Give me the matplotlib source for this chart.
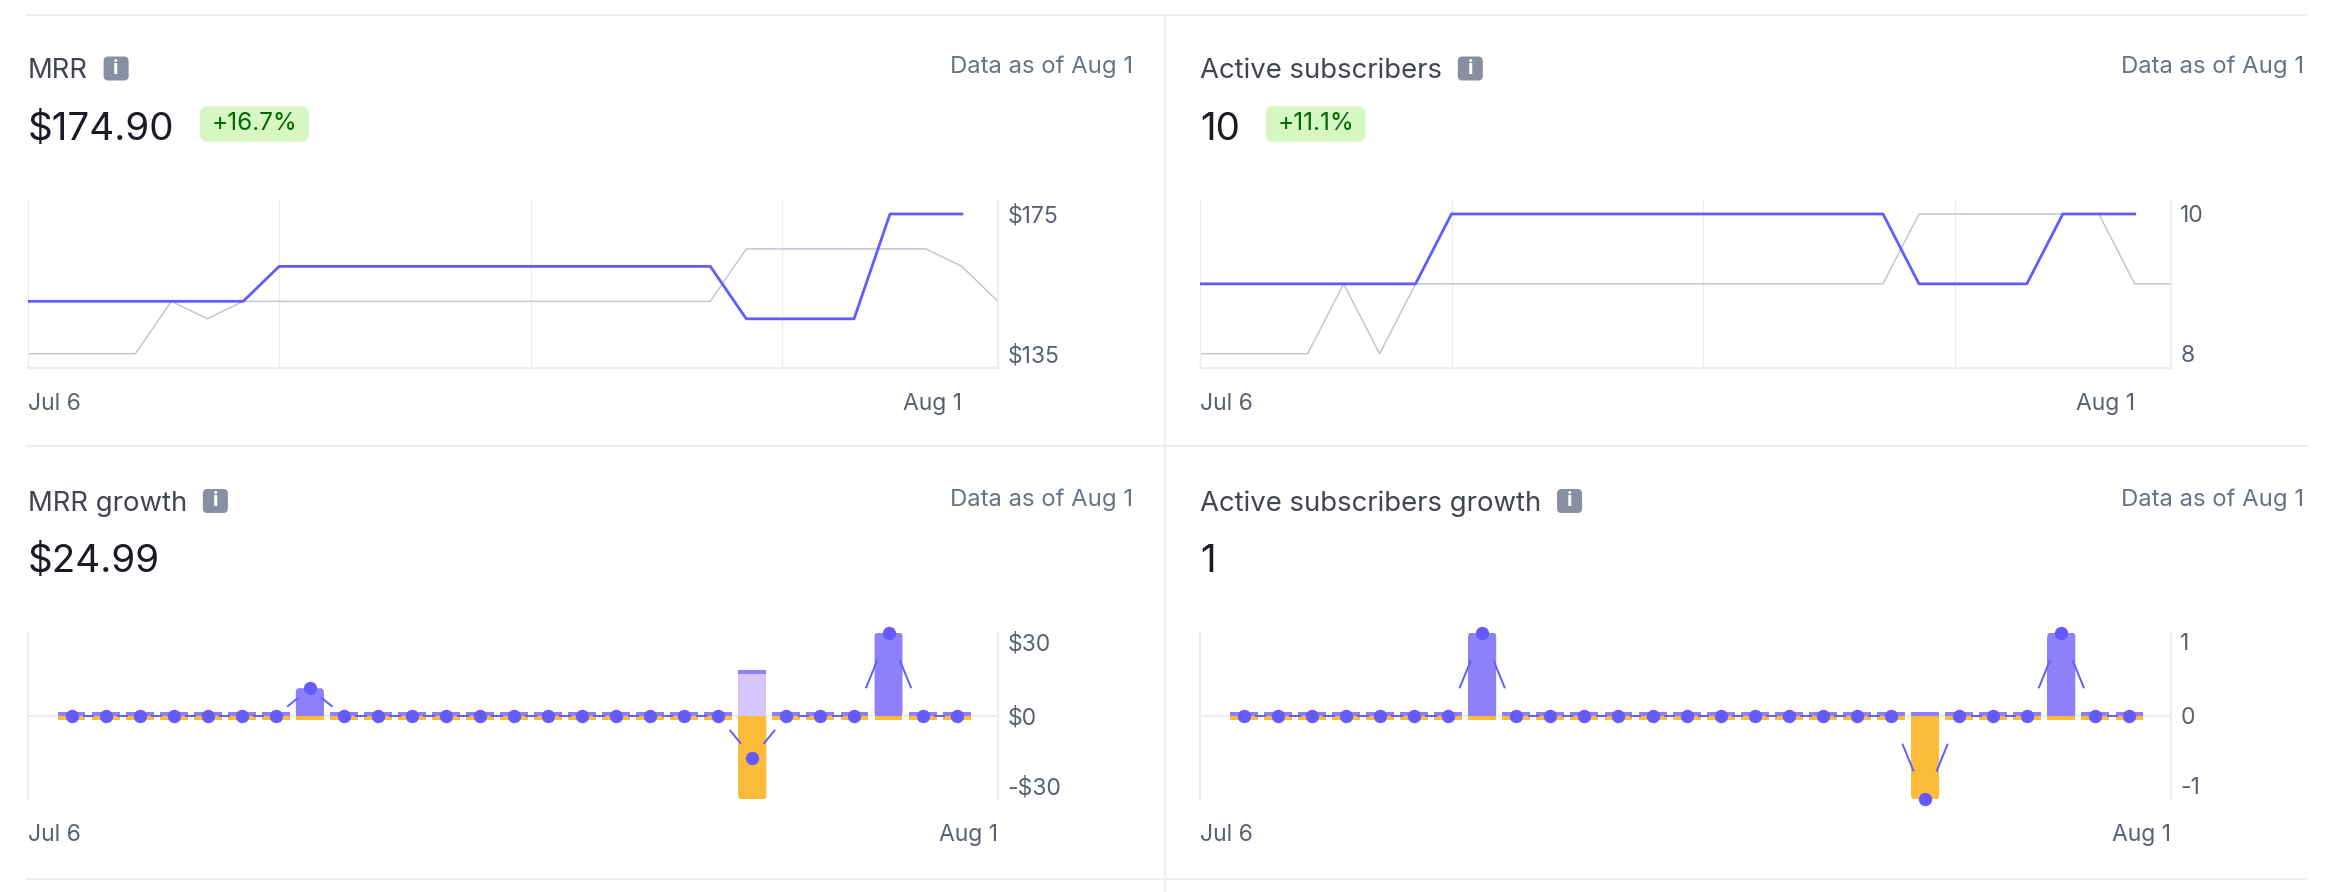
import numpy as np
import matplotlib
matplotlib.use("Agg")
import matplotlib.pyplot as plt
from matplotlib.patches import FancyBboxPatch
from matplotlib.collections import LineCollection
from matplotlib.lines import Line2D
from matplotlib.transforms import IdentityTransform

plt.rcParams['font.family'] = ['Inter', 'DejaVu Sans']

# ---- data ----
date_first, date_last = 'Jul 6', 'Aug 1'

mrr_current = [149.91, 149.91, 149.91, 149.91, 149.91, 149.91, 149.91,
               159.91, 159.91, 159.91, 159.91, 159.91, 159.91, 159.91,
               159.91, 159.91, 159.91, 159.91, 159.91, 159.91,
               144.91, 144.91, 144.91, 144.91,
               174.90, 174.90, 174.90]
mrr_previous = [134.92, 134.92, 134.92, 134.92, 149.91, 144.92,
                149.91, 149.91, 149.91, 149.91, 149.91, 149.91, 149.91,
                149.91, 149.91, 149.91, 149.91, 149.91, 149.91, 149.91,
                164.91, 164.91, 164.91, 164.91, 164.91, 164.91,
                159.91, 149.91]

subs_current = [9, 9, 9, 9, 9, 9, 9,
                10, 10, 10, 10, 10, 10, 10, 10, 10, 10, 10, 10, 10,
                9, 9, 9, 9,
                10, 10, 10]
subs_previous = [8, 8, 8, 8, 9, 8,
                 9, 9, 9, 9, 9, 9, 9, 9, 9, 9, 9, 9, 9, 9,
                 10, 10, 10, 10, 10, 10,
                 9, 9]

# growth per day: new (purple), expansion (light purple), churn (orange)
mrr_new = [0, 0, 0, 0, 0, 0, 0, 10.00, 0, 0, 0, 0, 0, 0, 0, 0, 0, 0, 0, 0,
           0, 0, 0, 0, 29.99, 0, 0]
mrr_exp = [0, 0, 0, 0, 0, 0, 0, 0, 0, 0, 0, 0, 0, 0, 0, 0, 0, 0, 0, 0,
           15.00, 0, 0, 0, 0, 0, 0]
mrr_churn = [0, 0, 0, 0, 0, 0, 0, 0, 0, 0, 0, 0, 0, 0, 0, 0, 0, 0, 0, 0,
             -30.00, 0, 0, 0, 0, 0, 0]
subs_new = [0, 0, 0, 0, 0, 0, 0, 1, 0, 0, 0, 0, 0, 0, 0, 0, 0, 0, 0, 0,
            0, 0, 0, 0, 1, 0, 0]
subs_exp = [0, 0, 0, 0, 0, 0, 0, 0, 0, 0, 0, 0, 0, 0, 0, 0, 0, 0, 0, 0,
            0, 0, 0, 0, 0, 0, 0]
subs_churn = [0, 0, 0, 0, 0, 0, 0, 0, 0, 0, 0, 0, 0, 0, 0, 0, 0, 0, 0, 0,
              -1, 0, 0, 0, 0, 0, 0]

BLURPLE = '#635BFF'
PURPLE = '#8D80F9'
LILAC = '#D5C6FE'
ORANGE = '#FDBB3A'
GRAYLINE = '#C0C8D2'
GRID = '#EBEEF1'
TITLE = '#414552'
SUB = '#687385'
TICK = '#596171'
NUM = '#1A1B25'

W, H = 2334, 892
fig = plt.figure(figsize=(W / 100, H / 100), dpi=100)
ID = IdentityTransform()


def add_ax(x0, y0, x1, y1):
    return fig.add_axes([x0 / W, 1 - y1 / H, (x1 - x0) / W, (y1 - y0) / H])


def line_panel(ax, cur, prev, ticks, labels):
    ax.plot(range(len(prev)), prev, color=GRAYLINE, lw=1.1, zorder=2)
    ax.plot(range(len(cur)), cur, color=BLURPLE, lw=2.0, zorder=3)
    lo, hi = min(cur + prev), max(cur + prev)
    pad = 0.1 * (hi - lo)
    ax.set_ylim(lo - pad, hi + pad)
    ax.set_xlim(0, len(prev) - 1)
    for d in (7, 14, 21):
        ax.axvline(d, color=GRID, lw=0.9, zorder=1)
    ax.spines['top'].set_visible(False)
    ax.spines['left'].set_color(GRID)
    ax.spines['left'].set_linewidth(0.9)
    for s in ('right', 'bottom'):
        ax.spines[s].set_color(GRID)
        ax.spines[s].set_linewidth(1.5)
    ax.yaxis.tick_right()
    ax.set_yticks(ticks, labels)
    ax.tick_params(axis='y', length=0, pad=7, labelsize=16.5, labelcolor=TICK)
    ax.set_xticks([0, len(cur) - 1], [date_first, date_last])
    ax.tick_params(axis='x', length=0, pad=18, labelsize=16.5, labelcolor=TICK)
    xl = ax.get_xticklabels()
    xl[0].set_ha('left')
    xl[1].set_ha('right')


def rounded_bar(ax, x, h, wdt, color, rx, ry):
    # bar from 0 to h, rounded only at the outer end
    sign = 1 if h > 0 else -1
    ax.bar(x, h - sign * ry * 1.5, width=wdt, bottom=0, color=color, zorder=2)
    ax.add_patch(FancyBboxPatch((x - wdt / 2, min(0, h)), wdt, abs(h),
                                boxstyle='round,pad=0,rounding_size=%f' % rx,
                                mutation_aspect=ry / rx, fc=color, ec='none', zorder=2))


def growth_panel(ax, new, exp, churn, lim, ticks, labels, wpx, hpx):
    n = len(new)
    x = np.arange(n)
    ax.set_xlim(-1.29, n + 0.21)
    ax.set_ylim(-lim, lim)
    ypp = 2 * lim / hpx
    xpp = (n + 1.5) / wpx
    stub = 4 * ypp
    ax.axhline(0, color=GRID, lw=1.5, zorder=1)
    wdt = 0.82
    for i in range(n):
        if exp[i] > 0:
            ax.bar(i, exp[i], width=wdt, bottom=0, color=LILAC, zorder=2)
        if new[i] > 0 and exp[i] == 0:
            rounded_bar(ax, i, new[i], wdt, PURPLE, 3 * xpp, 3 * ypp)
        else:
            h = new[i] if new[i] > 0 else stub
            ax.bar(i, h, width=wdt, bottom=exp[i], color=PURPLE, zorder=2)
        if churn[i] < 0:
            rounded_bar(ax, i, churn[i], wdt, ORANGE, 3 * xpp, 3 * ypp)
        else:
            ax.bar(i, -stub, width=wdt, bottom=0, color=ORANGE, zorder=2)
    net = [new[i] + exp[i] + churn[i] for i in range(n)]
    segs = []
    for i in range(n - 1):
        dy = net[i + 1] - net[i]
        segs.append([(i + 1 / 3, net[i] + dy / 3), (i + 2 / 3, net[i] + 2 * dy / 3)])
    ax.add_collection(LineCollection(segs, colors=BLURPLE, linewidths=1.4, zorder=3))
    ax.plot(x, net, 'o', ms=9.6, color=BLURPLE, mec='none', zorder=4, clip_on=False)
    for s in ('top', 'bottom'):
        ax.spines[s].set_visible(False)
    for s in ('left', 'right'):
        ax.spines[s].set_color(GRID)
        ax.spines[s].set_linewidth(1.5)
    ax.yaxis.tick_right()
    ax.set_yticks(ticks, labels)
    ax.tick_params(axis='y', length=0, pad=7, labelsize=16.5, labelcolor=TICK)
    yl = ax.get_yticklabels()
    yl[0].set_va('bottom')
    yl[-1].set_va('top')
    ax.set_xticks(ax.get_xlim(), [date_first, date_last])
    ax.tick_params(axis='x', length=0, pad=18, labelsize=16.5, labelcolor=TICK)
    xl = ax.get_xticklabels()
    xl[0].set_ha('left')
    xl[1].set_ha('right')


# separators
for yy in (15, 446, 879):
    fig.add_artist(Line2D([27 / W, 2306 / W], [1 - yy / H] * 2, color=GRID, lw=1.5))
fig.add_artist(Line2D([1165 / W] * 2, [1 - 15 / H, 0], color=GRID, lw=1.5))

cols = [27.6, 1199.8]
rights = [1133, 2304]
rows = [0, 432.5]

ax1 = add_ax(27.6, 200, 997.8, 367.7)
line_panel(ax1, mrr_current, mrr_previous, [135, 175], ['$135', '$175'])
ax2 = add_ax(1199.8, 200, 2170.7, 367.7)
line_panel(ax2, subs_current, subs_previous, [8, 10], ['8', '10'])
ax3 = add_ax(27.6, 632.7, 997.8, 799.3)
growth_panel(ax3, mrr_new, mrr_exp, mrr_churn, 30, [-30, 0, 30],
             ['-$30', '$0', '$30'], 970.2, 166.6)
ax4 = add_ax(1199.8, 632.7, 2170.7, 799.3)
growth_panel(ax4, subs_new, subs_exp, subs_churn, 1, [-1, 0, 1],
             ['-1', '0', '1'], 970.9, 166.6)

panels = [
    (0, 0, 'MRR', '$174.90', '+16.7%'),
    (1, 0, 'Active subscribers', '10', '+11.1%'),
    (0, 1, 'MRR growth', '$24.99', None),
    (1, 1, 'Active subscribers growth', '1', None),
]

fig.canvas.draw()
r = fig.canvas.get_renderer()

for c, rw, title, num, badge in panels:
    x0 = cols[c]
    dy = rows[rw]
    t = fig.text(x0, H - (78.3 + dy), title, transform=ID, fontsize=19.8,
                 color=TITLE, ha='left', va='baseline')
    fig.text(rights[c], H - (73.3 + dy), 'Data as of Aug 1', transform=ID,
             fontsize=17.2, color=SUB, ha='right', va='baseline')
    nt = fig.text(x0, H - (140 + dy), num, transform=ID, fontsize=27.8,
                  color=NUM, ha='left', va='baseline')
    bb = t.get_window_extent(r)
    ix = bb.x1 + 16
    icy = H - (68.5 + dy)
    fig.add_artist(FancyBboxPatch((ix, icy - 12), 25, 24,
                                  boxstyle='round,pad=0,rounding_size=4.5',
                                  transform=ID, fc='#878FA0', ec='none'))
    fig.text(ix + 12.5, icy, 'i', transform=ID, fontsize=14.5, color='white',
             fontweight='bold', ha='center', va='center')
    if badge:
        nb = nt.get_window_extent(r)
        bt = fig.text(0, 0, badge, transform=ID, fontsize=17.5, color='#006908')
        tw = bt.get_window_extent(r).width
        bw = tw + 23
        bx = nb.x1 + 26
        by = H - 124 - dy
        fig.add_artist(FancyBboxPatch((bx, by - 18), bw, 36,
                                      boxstyle='round,pad=0,rounding_size=8',
                                      transform=ID, fc='#D7F7C2', ec='none'))
        bt.set_position((bx + bw / 2, by))
        bt.set_ha('center')
        bt.set_va('center')

fig.savefig('out.png', dpi=100, facecolor='white')
